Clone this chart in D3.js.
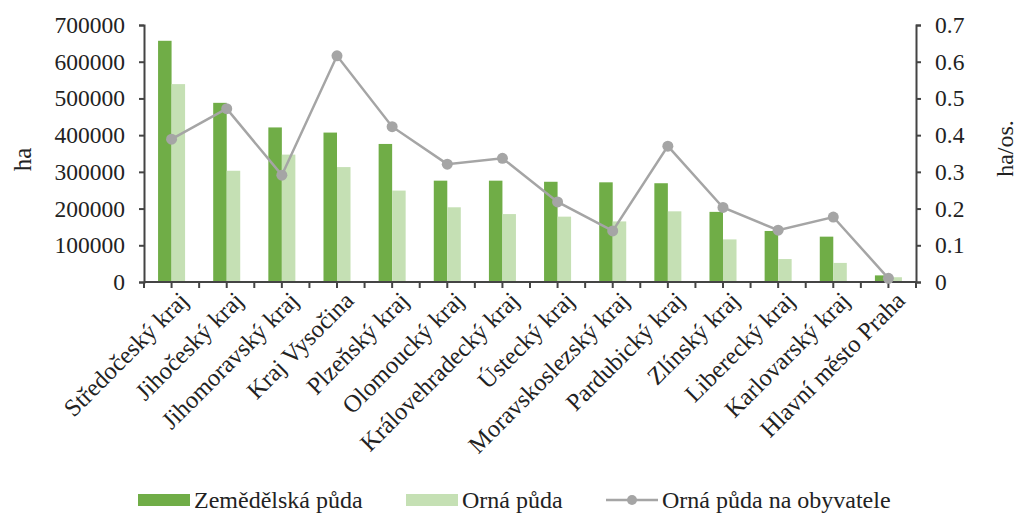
<!DOCTYPE html>
<html>
<head>
	<meta charset="utf-8">
	<title>Půda v krajích</title>
	<script src="https://d3js.org/d3.v7.min.js" charset="utf-8"></script>
	<style>
		body { margin: 0; background: #fff; }
		svg text { font-family: 'Liberation Serif', 'DejaVu Serif', serif !important; fill: #222; }
	</style>
</head>
<body>
	<svg width="1020" height="515"></svg>
	<script>
		const kraje = ["Středočeský kraj", "Jihočeský kraj", "Jihomoravský kraj", "Kraj Vysočina",
			"Plzeňský kraj", "Olomoucký kraj", "Královehradecký kraj", "Ústecký kraj",
			"Moravskoslezský kraj", "Pardubický kraj", "Zlínský kraj", "Liberecký kraj",
			"Karlovarský kraj", "Hlavní město Praha"];
		const zemedelska = [657000, 488000, 421000, 407000, 376000, 276000, 276000, 273000, 271500, 269000, 191000, 139000, 123500, 18000];
		const orna = [539000, 303000, 347000, 313000, 249000, 203500, 185000, 178000, 165000, 192500, 116000, 62500, 52000, 13000];
		const naObyvatele = [0.389, 0.472, 0.291, 0.616, 0.423, 0.321, 0.337, 0.218, 0.139, 0.370, 0.203, 0.141, 0.177, 0.010];
		const leftTicks = [0, 100000, 200000, 300000, 400000, 500000, 600000, 700000];
		const rightTicks = [0, 0.1, 0.2, 0.3, 0.4, 0.5, 0.6, 0.7];

		const mLeft = 144, mRight = 916, mTop = 25, mBottom = 282;
		const serif = "'Liberation Serif', 'DejaVu Serif', serif";
		const svg = d3.select('svg');

		const x = d3.scaleBand().domain(kraje).range([mLeft, mRight]);
		const y = d3.scaleLinear().domain([0, 700000]).range([mBottom, mTop]);
		const y2 = d3.scaleLinear().domain([0, 0.7]).range([mBottom, mTop]);
		const barW = x.bandwidth() * 0.245;

		// bars
		svg.append('g').selectAll('rect')
			.data(kraje)
			.join('rect')
			.attr('x', d => x(d) + x.bandwidth() / 2 - barW)
			.attr('y', (d, i) => y(zemedelska[i]))
			.attr('width', barW)
			.attr('height', (d, i) => mBottom - y(zemedelska[i]))
			.attr('fill', '#70ad47');

		svg.append('g').selectAll('rect')
			.data(kraje)
			.join('rect')
			.attr('x', d => x(d) + x.bandwidth() / 2)
			.attr('y', (d, i) => y(orna[i]))
			.attr('width', barW)
			.attr('height', (d, i) => mBottom - y(orna[i]))
			.attr('fill', '#c5e0b4');

		// axes
		const axisColor = '#444';
		const gl = svg.append('g')
			.attr('transform', `translate(${mLeft},0)`)
			.call(d3.axisLeft(y).tickValues(leftTicks).tickFormat(d3.format('d')).tickSize(5).tickPadding(14));
		const gr = svg.append('g')
			.attr('transform', `translate(${mRight},0)`)
			.call(d3.axisRight(y2).tickValues(rightTicks).tickFormat(d => d === 0 ? '0' : d3.format('.1f')(d)).tickSize(5).tickPadding(14));

		// category axis with ticks at every half band
		const halfTicks = d3.range(0, kraje.length * 2 + 1).map(i => mLeft + i * x.bandwidth() / 2);
		const gx = svg.append('g');
		gx.append('line')
			.attr('x1', mLeft).attr('x2', mRight)
			.attr('y1', mBottom).attr('y2', mBottom);
		gx.selectAll('line.t')
			.data(halfTicks)
			.join('line')
			.attr('class', 't')
			.attr('x1', d => d).attr('x2', d => d)
			.attr('y1', mBottom).attr('y2', mBottom + 6);
		gx.selectAll('line').attr('stroke', axisColor).attr('stroke-width', 2);

		gx.selectAll('text')
			.data(kraje)
			.join('text')
			.attr('transform', d => `translate(${x(d) + x.bandwidth() / 2 + 6},${mBottom + 8}) rotate(-45)`)
			.attr('text-anchor', 'end')
			.attr('dy', '0.7em')
			.style('font-size', '24.5px')
			.text(d => d);

		[gl, gr].forEach(g => {
			g.attr('font-family', serif);
			g.select('.domain').attr('stroke', axisColor).attr('stroke-width', 2);
			g.selectAll('.tick line').attr('stroke', axisColor).attr('stroke-width', 2);
			g.selectAll('.tick text').style('font-size', '23.5px').attr('fill', '#222');
		});

		// line
		const cx = d => x(d) + x.bandwidth() / 2;
		svg.append('path')
			.datum(kraje)
			.attr('fill', 'none')
			.attr('stroke', '#a5a5a5')
			.attr('stroke-width', 2.5)
			.attr('d', d3.line().x(cx).y((d, i) => y2(naObyvatele[i])));
		svg.append('g').selectAll('circle')
			.data(kraje)
			.join('circle')
			.attr('cx', cx)
			.attr('cy', (d, i) => y2(naObyvatele[i]))
			.attr('r', 5.5)
			.attr('fill', '#a5a5a5');

		// axis titles
		svg.append('text')
			.attr('transform', `translate(22,${(mTop + mBottom) / 2 + 6}) rotate(-90)`)
			.attr('text-anchor', 'middle')
			.attr('dy', '0.35em')
			.style('font-size', '25px')
			.text('ha');
		svg.append('text')
			.attr('transform', `translate(1005,${(mTop + mBottom) / 2 - 5}) rotate(-90)`)
			.attr('text-anchor', 'middle')
			.attr('dy', '0.35em')
			.style('font-size', '24px')
			.text('ha/os.');

		// legend
		const lg = svg.append('g');
		const ly = 500;
		lg.append('rect').attr('x', 138).attr('y', ly - 6).attr('width', 52).attr('height', 12).attr('fill', '#70ad47');
		lg.append('text').attr('x', 194).attr('y', ly).attr('dy', '0.35em').style('font-size', '24px').text('Zemědělská půda');
		lg.append('rect').attr('x', 406).attr('y', ly - 6).attr('width', 52).attr('height', 12).attr('fill', '#c5e0b4');
		lg.append('text').attr('x', 462).attr('y', ly).attr('dy', '0.35em').style('font-size', '24px').text('Orná půda');
		lg.append('line').attr('x1', 606).attr('x2', 658).attr('y1', ly).attr('y2', ly).attr('stroke', '#a5a5a5').attr('stroke-width', 2.5);
		lg.append('circle').attr('cx', 632).attr('cy', ly).attr('r', 5).attr('fill', '#a5a5a5');
		lg.append('text').attr('x', 662).attr('y', ly).attr('dy', '0.35em').style('font-size', '24px').text('Orná půda na obyvatele');
	</script>
</body>
</html>
